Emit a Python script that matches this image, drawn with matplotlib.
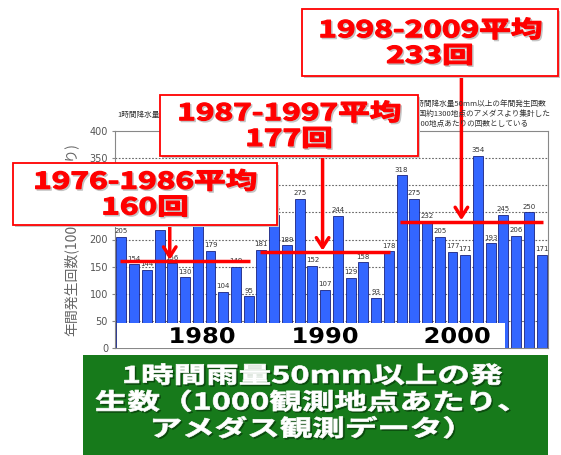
import matplotlib
matplotlib.use("Agg")
import matplotlib.pyplot as plt
from matplotlib.patches import Rectangle
from matplotlib.patheffects import AbstractPathEffect
from matplotlib.transforms import Affine2D

# ---------------- data ----------------
years = list(range(1976, 2010))
counts = [205, 154, 144, 218, 156, 130, 228, 179, 104, 149, 95,
          181, 245, 189, 275, 152, 107, 244, 129, 158, 93, 178,
          318, 275, 232, 205, 177, 171, 354, 193, 245, 206, 250, 171]
period_start = [1976, 1987, 1998]
period_end = [1986, 1997, 2009]
period_avg = [160, 177, 233]
yticks = [0, 50, 100, 150, 200, 250, 300, 350, 400]
decade_labels = ["1980", "1990", "2000"]
ylabel = "年間発生回数(1000地点あたり)"
chart_title = "1時間降水量50mm以上の年間発生回数"
notes = ["1時間降水量50mm以上の年間発生回数",
         "全国約1300地点のアメダスより集計した",
         "1000地点あたりの回数としている"]
caption = "1時間雨量50mm以上の発\n生数（1000観測地点あたり、\nアメダス観測データ）"

W, H = 561, 455
JP = ["Noto Sans CJK JP", "DejaVu Sans"]


class HStretch(AbstractPathEffect):
    """Stretch rendered text horizontally around the text anchor."""
    def __init__(self, text, sx, offset=(0, 0), color=None, lw=0.0):
        super().__init__()
        self.text = text
        self.sx = sx
        self.off = offset
        self.color = color
        self.lw = lw

    def draw_path(self, renderer, gc, tpath, affine, rgbFace=None):
        cx = self.text.get_transform().transform(self.text.get_position())[0]
        t = affine + Affine2D().translate(-cx, 0).scale(self.sx, 1).translate(cx + self.off[0], self.off[1])
        gc0 = renderer.new_gc()
        gc0.copy_properties(gc)
        face = rgbFace if self.color is None else matplotlib.colors.to_rgba(self.color)
        if self.lw > 0:
            gc0.set_linewidth(self.lw)
            gc0.set_foreground(face)
        renderer.draw_path(gc0, tpath, t, face)
        gc0.restore()


def fx(px):
    return px / W


def fy(py):
    return 1 - py / H


def stretched_text(fig, xpx, ypx, s, sx, shadow=None, lw=0.0, **kw):
    t = fig.text(fx(xpx), fy(ypx), s, **kw)
    effects = []
    if shadow is not None:
        effects.append(HStretch(t, sx, offset=(1.5, -1.5), color=shadow, lw=lw))
    effects.append(HStretch(t, sx, lw=lw))
    t.set_path_effects(effects)
    return t


fig = plt.figure(figsize=(W / 100, H / 100), dpi=100)
fig.patch.set_facecolor("white")

ax = fig.add_axes([fx(115), 1 - 348 / H, 433 / W, 217 / H])
ax.bar(years, counts, width=0.78, color="#3366FF", edgecolor="#1a237e", linewidth=0.6, zorder=2)
for x, v in zip(years, counts):
    ax.annotate(str(v), (x, v), xytext=(0, 2), textcoords="offset points",
                ha="center", va="bottom", fontsize=5, color="#333333", zorder=3)
ax.set_xlim(1975.5, 2009.5)
ax.set_ylim(0, 400)
ax.set_yticks(yticks)
ax.set_yticklabels([str(t) for t in yticks], fontsize=7, color="#555555")
ax.set_xticks([])
ax.tick_params(axis="y", length=2, color="#888888", pad=3)
for y in yticks[1:-1]:
    ax.axhline(y, color="#666666", linestyle=(0, (1.5, 1.5)), linewidth=0.8, zorder=1)
for sp in ax.spines.values():
    sp.set_color("#888888")
    sp.set_linewidth(0.8)
ax.set_ylabel(ylabel, fontsize=10, color="#666666", family=JP, labelpad=8)

# average lines
for s, e, a in zip(period_start, period_end, period_avg):
    ax.plot([s - 0.1, e + 0.1], [a, a], color="#FF0000", linewidth=2.5, zorder=4, solid_capstyle="butt")

# small chart texts
fig.text(fx(117), fy(115), chart_title, fontsize=5.5, color="#333333", family=JP, va="center")
for i, n in enumerate(notes):
    fig.text(fx(412), fy(104 + i * 10), n, fontsize=5.5, color="#333333", family=JP, va="center")

# red annotation boxes
boxes = [(13, 277, 163, 225), (160, 418, 95, 156), (302, 558, 9, 76)]
arrow_x = [1979.8, 1991.8, 2002.7]
for (x0, x1, y0, y1), s, e, a, axx in zip(boxes, period_start, period_end, period_avg, arrow_x):
    ax.annotate("", xy=(axx, a), xytext=(axx, H - y1), textcoords=("data", "figure pixels"),
                arrowprops=dict(arrowstyle="->,head_length=0.7,head_width=0.45", color="#FF0000",
                                lw=2.5, shrinkA=0, shrinkB=1),
                annotation_clip=False, zorder=5)
    fig.patches.append(Rectangle((fx(x0) + 2 / W, fy(y1) - 2 / H), (x1 - x0) / W, (y1 - y0) / H,
                                 transform=fig.transFigure, facecolor="#c8c8c8", edgecolor="none", zorder=6))
    fig.patches.append(Rectangle((fx(x0), fy(y1)), (x1 - x0) / W, (y1 - y0) / H,
                                 transform=fig.transFigure, facecolor="white", edgecolor="#FF0000",
                                 linewidth=1.3, zorder=7))
    stretched_text(fig, (x0 + x1) / 2, (y0 + y1) / 2 + 1, f"{s}-{e}平均\n{a}回", 1.38, shadow="#c4c4c4",
                   lw=0.9, ha="center", va="center", fontsize=16.5, fontweight="bold", color="#FF0000",
                   family=JP, linespacing=1.15, zorder=8)

# white strip with decade labels
fig.patches.append(Rectangle((fx(117), fy(348)), (505 - 117) / W, (348 - 323) / H,
                             transform=fig.transFigure, facecolor="white", edgecolor="none", zorder=6))
for lab, xp in zip(decade_labels, [202, 325, 457]):
    stretched_text(fig, xp, 337, lab, 1.12, ha="center", va="center", fontsize=15.5,
                   fontweight="bold", color="black", family=["DejaVu Sans"], zorder=8)

# green caption box
fig.patches.append(Rectangle((fx(83), fy(455)), (548 - 83) / W, 100 / H,
                             transform=fig.transFigure, facecolor="#177A1B", edgecolor="none", zorder=6))
stretched_text(fig, 312, 403, caption, 1.42, shadow="#0b4a0e", lw=0.5, ha="center", va="center",
               fontsize=16.5, fontweight="bold", color="white", family=JP, linespacing=1.2, zorder=8)

fig.savefig("out.png", dpi=100)
